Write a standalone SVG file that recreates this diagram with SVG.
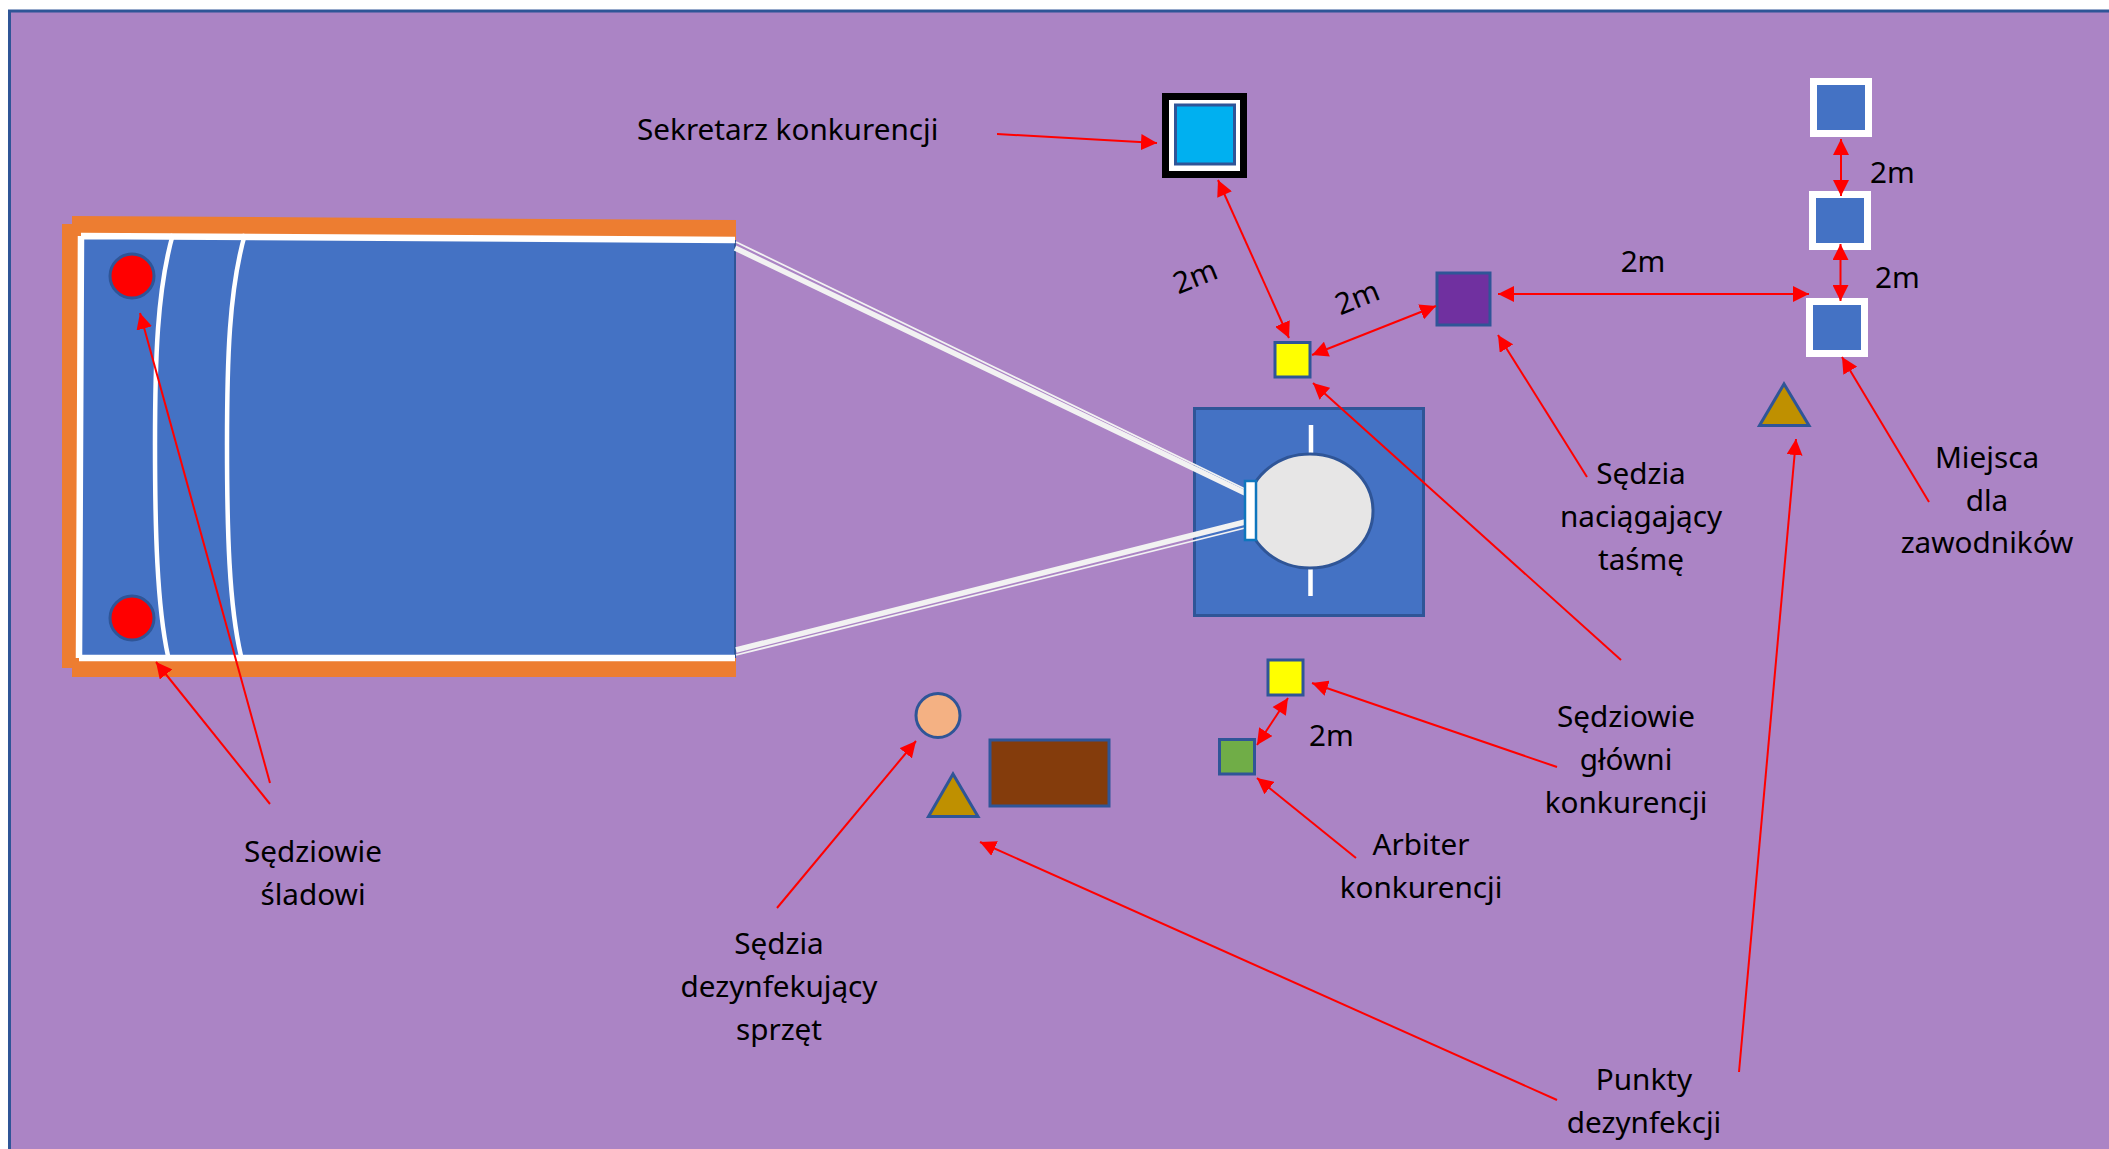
<svg xmlns="http://www.w3.org/2000/svg" width="2109" height="1149" viewBox="0 0 2109 1149">
<style>
.s{stroke:#2F5597;stroke-width:3}
.w{fill:#4472C4;stroke:#fff;stroke-width:7}
.a{stroke:#f00;stroke-width:2;fill:none;marker-end:url(#h)}
.b{stroke:#f00;stroke-width:2;fill:none;marker-end:url(#h);marker-start:url(#hs)}
text{font-family:"Noto Sans","Open Sans","Liberation Sans",sans-serif;font-size:29.7px;fill:#000}
.c{text-anchor:middle}
</style>
<defs>
<marker id="h" markerUnits="userSpaceOnUse" markerWidth="17" markerHeight="16" refX="16" refY="8" orient="auto"><path d="M0 0L16 8L0 16Z" fill="#f00"/></marker>
<marker id="hs" markerUnits="userSpaceOnUse" markerWidth="17" markerHeight="16" refX="0" refY="8" orient="auto"><path d="M16 0L0 8L16 16Z" fill="#f00"/></marker>
</defs>
<rect id="background" x="9.5" y="11" width="2110" height="1150" fill="#AB84C5" stroke="#2F5597" stroke-width="3"/>
<g id="pool">
<rect x="62" y="224" width="30" height="444" fill="#ED7D31"/>
<path d="M72 216L736 220V677H72Z" fill="#ED7D31"/>
<path d="M81 236L735 240V658L79 658Z" fill="#4472C4"/>
<path d="M735 240V658" stroke="#2F5597" stroke-width="2"/>
<path d="M81 236L735 240M79 658H735M81 236L79 658" stroke="#fff" stroke-width="6.500" fill="none"/>
<path d="M173 234C157 290 155 360 155 445C155 530 157 605 168 656" stroke="#fff" stroke-width="4.500" fill="none"/>
<path d="M245 234C229 290 227 360 227 445C227 530 229 605 241 656" stroke="#fff" stroke-width="4.500" fill="none"/>
<circle id="lane-judge-top" cx="132" cy="276" r="22" fill="#f00" class="s"/>
<circle id="lane-judge-bottom" cx="132" cy="618" r="22" fill="#f00" class="s"/>
</g>
<g id="platform">
<rect x="1194.500" y="408.500" width="229" height="207" fill="#4472C4" class="s"/>
<path d="M1311 425V454M1310.500 569V596" stroke="#fff" stroke-width="4.500"/>
<ellipse cx="1310" cy="511" rx="63" ry="57" fill="#E7E6E6" class="s"/>
<path d="M735 248L1245 493M736 650L1245 522" stroke="#F2F2F2" stroke-width="5.500"/>
<path d="M736 242L1245 489M736 655L1245 528" stroke="#F2F2F2" stroke-width="1.800"/>
<rect x="1245" y="481" width="11" height="59" fill="#fff" stroke="#0F76BD" stroke-width="2.500"/>
</g>
<g id="secretary">
<rect x="1165.500" y="96.500" width="78" height="78" fill="#fff" stroke="#000" stroke-width="7"/>
<rect x="1175.500" y="105" width="59" height="59" fill="#00B0F0" class="s"/>
</g>
<g id="head-judge-top"><rect x="1275" y="342.500" width="35" height="34.500" fill="#ff0" class="s"/></g>
<g id="tape-judge"><rect x="1437" y="273" width="53" height="52" fill="#7030A0" class="s"/></g>
<g id="athlete-1"><rect x="1813.500" y="81.500" width="55" height="52" class="w"/></g>
<g id="athlete-2"><rect x="1812.500" y="194.500" width="55" height="52" class="w"/></g>
<g id="athlete-3"><rect x="1809.500" y="301.500" width="55" height="52" class="w"/></g>
<g id="disinfection-right"><path d="M1784 385L1759.500 426.500H1809Z" fill="#BF9000" class="s" transform="translate(0 -1)"/></g>
<g id="disinfection-left"><path d="M953 775L928.500 817.500H978Z" fill="#BF9000" class="s" transform="translate(0 -1)"/></g>
<g id="disinfect-judge"><circle cx="938" cy="715.500" r="22" fill="#F4B183" class="s"/></g>
<g id="table"><rect x="990" y="740" width="119" height="66" fill="#843C0C" class="s"/></g>
<g id="head-judge-bottom"><rect x="1268" y="660" width="35" height="35" fill="#ff0" class="s"/></g>
<g id="arbiter"><rect x="1219.500" y="739.500" width="35" height="34.500" fill="#70AD47" class="s"/></g>
<g id="connectors">
<path class="a" d="M997 134L1157 143"/>
<path class="b" d="M1218 180L1289 338"/>
<path class="b" d="M1312 355L1436 306"/>
<path class="b" d="M1498 294H1809"/>
<path class="b" d="M1841 139V196"/>
<path class="b" d="M1840.500 244V301"/>
<path class="a" d="M1929 502L1842 357"/>
<path class="a" d="M1739 1072L1796 439"/>
<path class="a" d="M1587 477L1498 335"/>
<path class="a" d="M1621 660L1313 383"/>
<path class="a" d="M1557 767L1312 683"/>
<path class="b" d="M1288 698L1257 745"/>
<path class="a" d="M1356 858L1257 778"/>
<path class="a" d="M777 908L916 741"/>
<path class="a" d="M1557 1100L980 842"/>
<path class="a" d="M270 783L140 313"/>
<path class="a" d="M270 804L156 662"/>
</g>
<g id="labels">
<text x="637" y="140">Sekretarz konkurencji</text>
<text class="c" transform="translate(1199 286) rotate(-22)">2m</text>
<text class="c" transform="translate(1361 307) rotate(-22)">2m</text>
<text class="c" x="1643" y="272">2m</text>
<text x="1870" y="183">2m</text>
<text x="1875" y="288">2m</text>
<text x="1309" y="746">2m</text>
<text class="c" x="1641" y="484">Sędzia</text>
<text class="c" x="1641" y="527">naciągający</text>
<text class="c" x="1641" y="570">taśmę</text>
<text class="c" x="1987" y="468">Miejsca</text>
<text class="c" x="1987" y="511">dla</text>
<text class="c" x="1987" y="553">zawodników</text>
<text class="c" x="1626" y="727">Sędziowie</text>
<text class="c" x="1626" y="770">główni</text>
<text class="c" x="1626" y="813">konkurencji</text>
<text class="c" x="1421" y="855">Arbiter</text>
<text class="c" x="1421" y="898">konkurencji</text>
<text class="c" x="779" y="954">Sędzia</text>
<text class="c" x="779" y="997">dezynfekujący</text>
<text class="c" x="779" y="1040">sprzęt</text>
<text class="c" x="1644" y="1090">Punkty</text>
<text class="c" x="1644" y="1133">dezynfekcji</text>
<text class="c" x="313" y="862">Sędziowie</text>
<text class="c" x="313" y="905">śladowi</text>
</g>
</svg>
